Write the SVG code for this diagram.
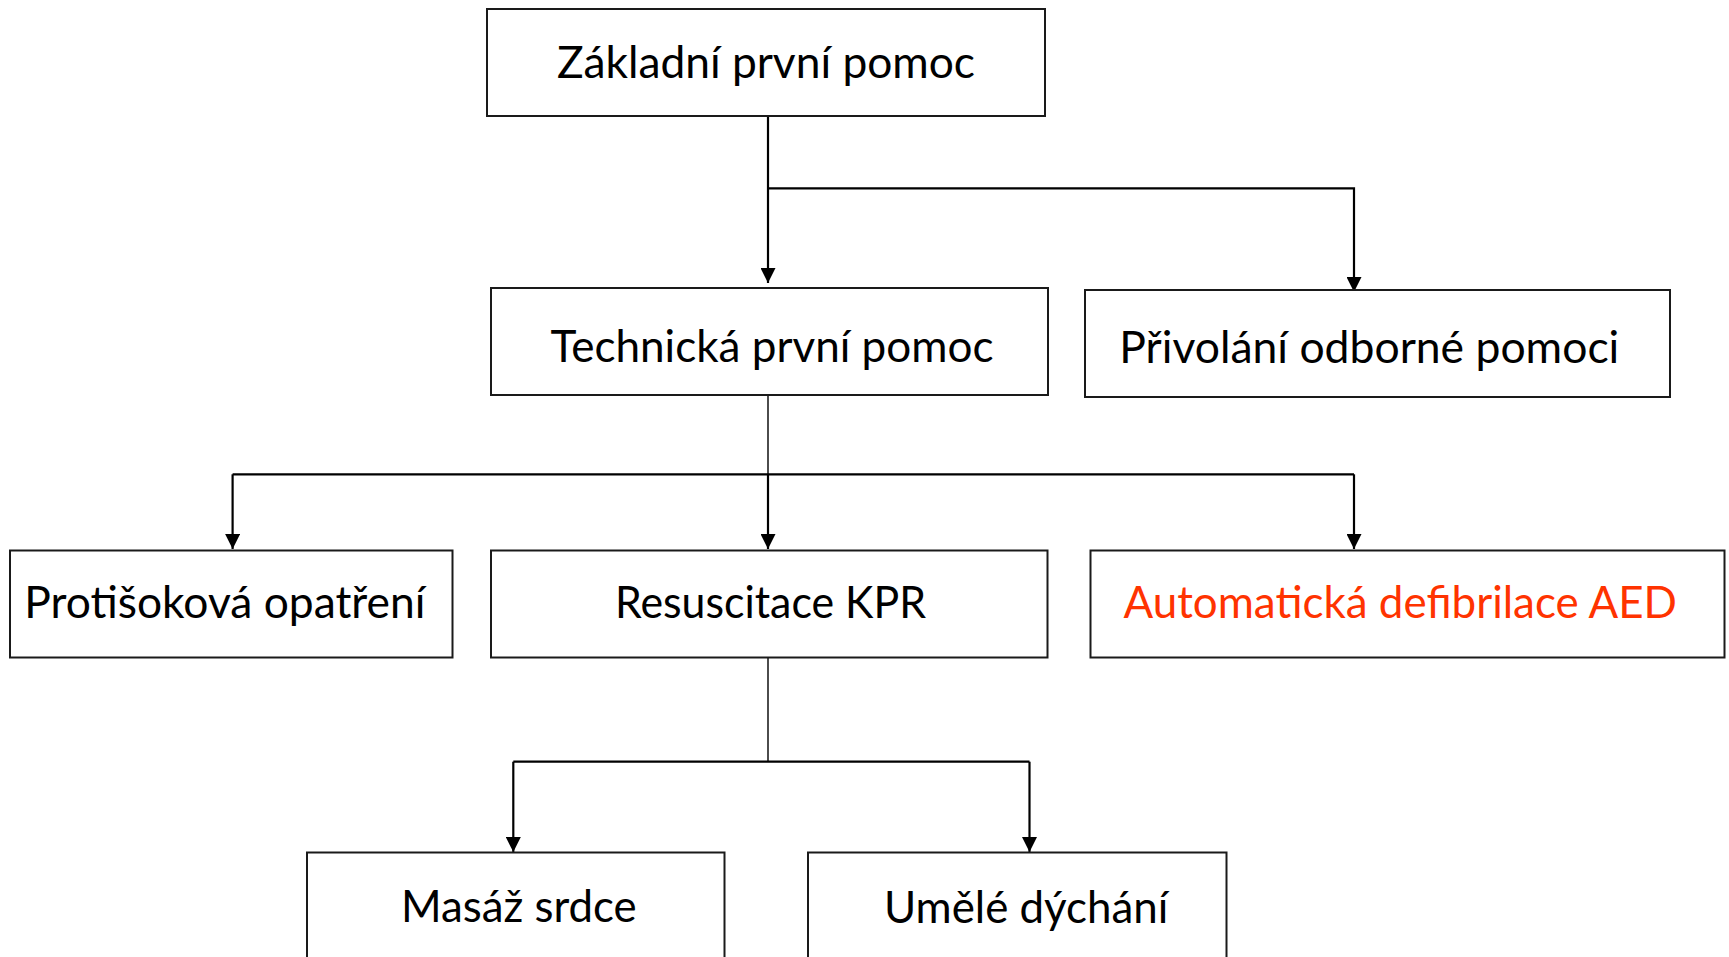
<svg xmlns="http://www.w3.org/2000/svg" width="1729" height="957" viewBox="0 0 1729 957">
<defs>
<style>
.box{fill:#fff;stroke:#1a1a1a;stroke-width:2}
.lbl{font-family:Lato,"Open Sans","Liberation Sans",sans-serif;font-size:44px;fill:#000}
.red{fill:#FF3300}
.ln{fill:none;stroke:#000;stroke-width:2.2}
.thin{fill:none;stroke:#000;stroke-width:1.4}
</style>
<marker id="arr" viewBox="0 0 15 15" refX="15" refY="7.5" markerWidth="15" markerHeight="15" markerUnits="userSpaceOnUse" orient="auto">
<path d="M0,0 L15,7.5 L0,15 z" fill="#000"/>
</marker>
</defs>
<rect width="1729" height="957" fill="#fff"/>
<g id="connectors">
<path class="ln" d="M768,116 V283" marker-end="url(#arr)"/>
<path class="ln" d="M768,188.3 H1354 V292" marker-end="url(#arr)"/>
<path class="thin" d="M768,395 V474.3"/>
<path class="ln" d="M232.6,474.3 H1354"/>
<path class="ln" d="M768,474.3 V549" marker-end="url(#arr)"/>
<path class="ln" d="M232.6,474.3 V549" marker-end="url(#arr)"/>
<path class="ln" d="M1354,474.3 V549" marker-end="url(#arr)"/>
<path class="thin" d="M768,657.5 V761.7"/>
<path class="ln" d="M513.3,761.7 H1029.5"/>
<path class="ln" d="M513.3,761.7 V852" marker-end="url(#arr)"/>
<path class="ln" d="M1029.5,761.7 V852" marker-end="url(#arr)"/>
</g>
<g id="n1"><rect class="box" x="487" y="9" width="558" height="107"/><text class="lbl" x="557" y="78.3" textLength="418" lengthAdjust="spacingAndGlyphs">Základní první pomoc</text></g>
<g id="n2"><rect class="box" x="491" y="288" width="557" height="107"/><text class="lbl" x="550.5" y="361.5" textLength="443" lengthAdjust="spacingAndGlyphs">Technická první pomoc</text></g>
<g id="n3"><rect class="box" x="1085" y="290" width="585" height="107"/><text class="lbl" x="1119.3" y="363.3" textLength="500" lengthAdjust="spacingAndGlyphs">Přivolání odborné pomoci</text></g>
<g id="n4"><rect class="box" x="10" y="550.5" width="442.5" height="107"/><text class="lbl" x="24.3" y="618.3" textLength="401" lengthAdjust="spacingAndGlyphs">Protišoková opatření</text></g>
<g id="n5"><rect class="box" x="491" y="550.5" width="556.5" height="107"/><text class="lbl" x="615" y="618.3" textLength="311" lengthAdjust="spacingAndGlyphs">Resuscitace KPR</text></g>
<g id="n6"><rect class="box" x="1090.5" y="550.5" width="634" height="107"/><text class="lbl red" x="1123.5" y="618.3" textLength="553.5" lengthAdjust="spacingAndGlyphs">Automatická defibrilace AED</text></g>
<g id="n7"><rect class="box" x="307" y="852.5" width="417.5" height="120"/><text class="lbl" x="401" y="922.3" textLength="235.7" lengthAdjust="spacingAndGlyphs">Masáž srdce</text></g>
<g id="n8"><rect class="box" x="808" y="852.5" width="418.5" height="120"/><text class="lbl" x="884" y="923.3" textLength="284.3" lengthAdjust="spacingAndGlyphs">Umělé dýchání</text></g>
</svg>
